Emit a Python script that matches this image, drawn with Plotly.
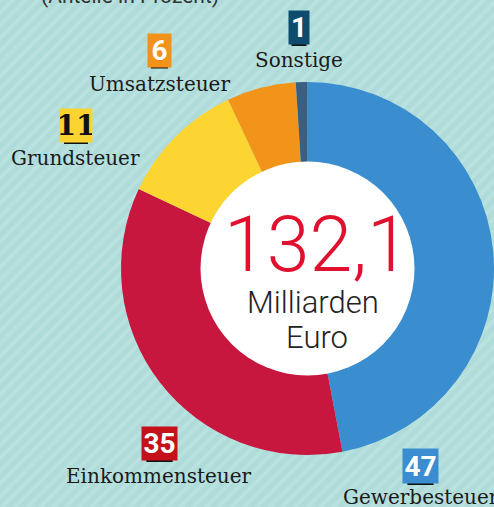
import plotly.graph_objects as go

# ---- data ----
categories = ["Gewerbesteuer", "Einkommensteuer", "Grundsteuer", "Umsatzsteuer", "Sonstige"]
values = [47, 35, 11, 6, 1]
slice_colors = ["#3a8dcf", "#c8173f", "#fdd532", "#f29419", "#3a5f80"]
box_colors = ["#3a8dd0", "#c5121a", "#fcd431", "#f39219", "#0e4c6d"]
box_text_colors = ["white", "white", "#111111", "white", "white"]
total_value = "132,1"
total_unit = ["Milliarden", "Euro"]
subtitle = "(Anteile in Prozent)"

W, H = 494, 507

def px(x):
    return x / W

def py(y):
    return 1 - y / H

# label layout (pixel centres of the boxes, baseline of category names)
box_pos = [(420.5, 466, 35, 34), (159.5, 443.5, 35, 33), (76, 125.5, 32, 33), (159.5, 50, 23, 33), (299, 27.5, 20, 33)]
name_pos = [(421, 504), (159, 483), (75, 165), (159, 91), (299, 67)]

fig = go.Figure()

# striped background
fig.add_trace(go.Scatter(
    x=[0, 1, 1, 0, 0], y=[0, 0, 1, 1, 0], mode="lines", fill="toself",
    line=dict(width=0), fillcolor="#afdcda",
    fillpattern=dict(shape="/", bgcolor="#afdcda", fgcolor="#c3e7e4", size=9, solidity=0.4),
    hoverinfo="skip", showlegend=False,
))

# donut
fig.add_trace(go.Pie(
    labels=categories, values=values, marker=dict(colors=slice_colors, line=dict(width=0)),
    sort=False, direction="clockwise", rotation=0, textinfo="none", hoverinfo="skip",
    showlegend=False,
    domain=dict(x=[121 / W, 1], y=[py(455), py(82)]),
))

# white centre
cx, cy, r = 307.5, 268.5, 107
fig.add_trace(go.Pie(
    labels=["centre"], values=[1], marker=dict(colors=["white"], line=dict(width=0)),
    textinfo="none", hoverinfo="skip", showlegend=False, sort=False,
    domain=dict(x=[px(cx - r), px(cx + r)], y=[py(cy + r), py(cy - r)]),
))

annotations = []
shapes = []
for i, cat in enumerate(categories):
    bx, by, bw, bh = box_pos[i]
    bold_family = "DejaVu Serif" if box_text_colors[i] != "white" else "Roboto"
    annotations.append(dict(
        x=px(bx), y=py(by), xref="paper", yref="paper", showarrow=False,
        xanchor="center", yanchor="middle",
        text=f"<b>{values[i]}</b>", width=bw, height=bh, borderpad=0,
        bgcolor=box_colors[i], align="center", valign="middle",
        font=dict(family=bold_family, size=28, color=box_text_colors[i]),
    ))
    # small dark underline under the number box
    uw = bw * 0.75
    shapes.append(dict(type="line", xref="paper", yref="paper",
                       x0=px(bx - uw / 2), x1=px(bx + uw / 2),
                       y0=py(by + bh / 2 + 1), y1=py(by + bh / 2 + 1),
                       line=dict(color="#111111", width=2)))
    nx, nb = name_pos[i]
    annotations.append(dict(
        x=px(nx), y=py(nb - 7), xref="paper", yref="paper", showarrow=False,
        text=cat, xanchor="center", yanchor="middle", borderpad=0,
        font=dict(family="DejaVu Serif", size=20, color="#1a1a1a"),
    ))

# centre texts
annotations.append(dict(x=px(317), y=py(245), xref="paper", yref="paper", showarrow=False,
                        text=total_value, borderpad=0, xanchor="center", yanchor="middle",
                        font=dict(family="Roboto", size=77, color="#e0102f", weight=300)))
annotations.append(dict(x=px(313), y=py(302.5), xref="paper", yref="paper", showarrow=False,
                        text=total_unit[0], borderpad=0, xanchor="center", yanchor="middle",
                        font=dict(family="Roboto", size=31, color="#222222", weight=300)))
annotations.append(dict(x=px(317), y=py(337.5), xref="paper", yref="paper", showarrow=False,
                        text=total_unit[1], borderpad=0, xanchor="center", yanchor="middle",
                        font=dict(family="Roboto", size=31, color="#222222", weight=300)))

# subtitle cut off at the top
annotations.append(dict(x=px(130), y=py(9), xref="paper", yref="paper", showarrow=False,
                        text=subtitle, borderpad=0, xanchor="center", yanchor="bottom",
                        font=dict(family="Roboto", size=21, color="#333333")))

fig.update_layout(
    width=W, height=H, margin=dict(l=0, r=0, t=0, b=0),
    paper_bgcolor="#afdcda", plot_bgcolor="rgba(0,0,0,0)",
    xaxis=dict(visible=False, range=[0, 1], domain=[0, 1], fixedrange=True),
    yaxis=dict(visible=False, range=[0, 1], domain=[0, 1], fixedrange=True),
    annotations=annotations, shapes=shapes,
)

fig.write_html(
    "out.html",
    config={"displayModeBar": False},
    post_script="document.body.style.margin='0';document.body.style.overflow='hidden';",
)
